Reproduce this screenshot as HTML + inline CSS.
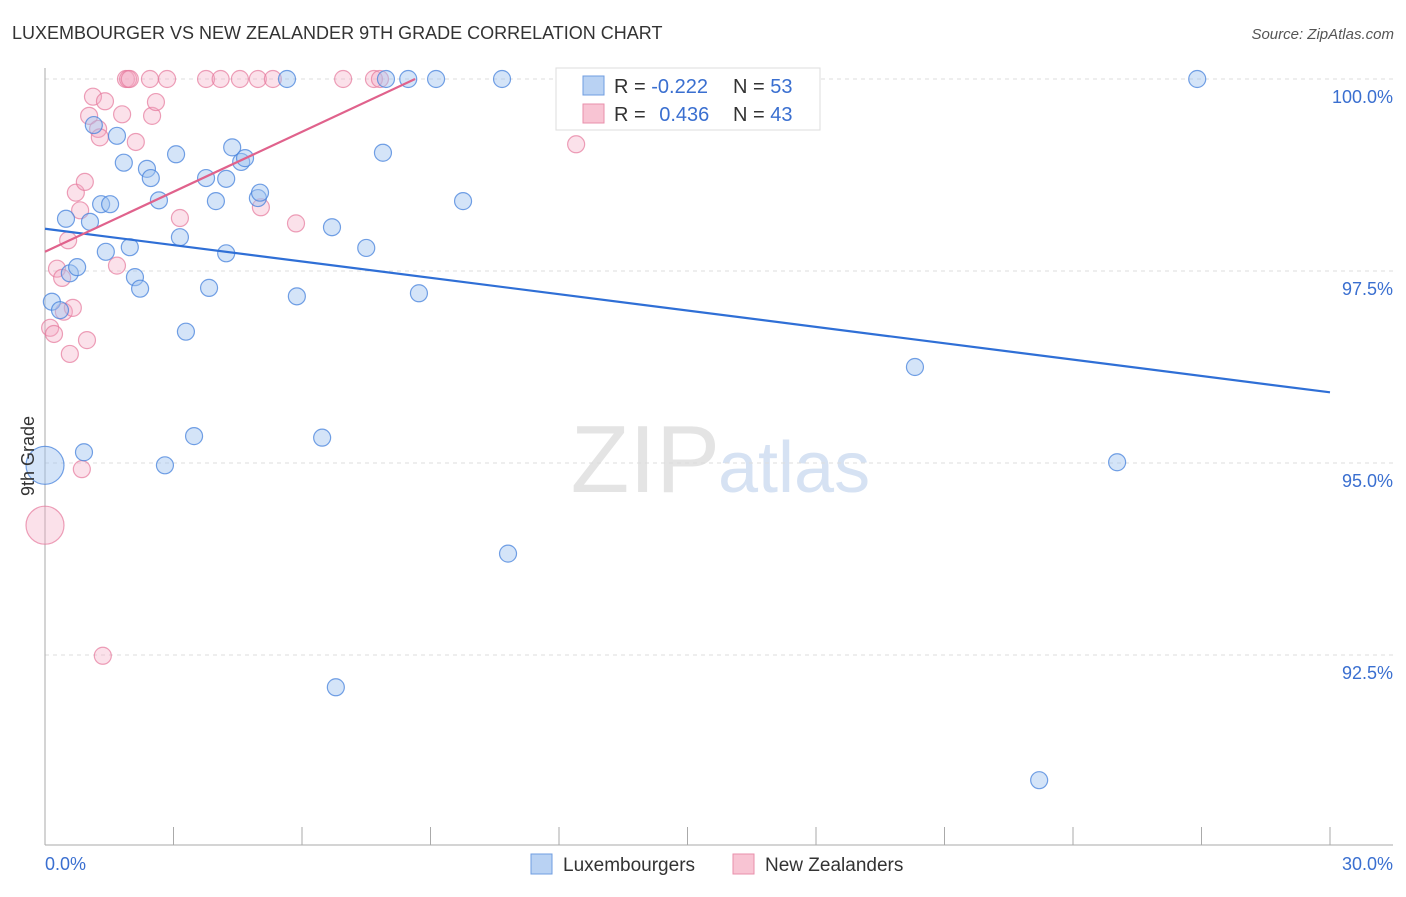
<!DOCTYPE html>
<html><head><meta charset="utf-8"><style>
body{margin:0;background:#fff;font-family:"Liberation Sans",sans-serif;}
svg text{font-family:"Liberation Sans",sans-serif;}
</style></head><body>
<svg id="c" width="1406" height="892" xmlns="http://www.w3.org/2000/svg">
<text x="12" y="39" font-size="18" fill="#333">LUXEMBOURGER VS NEW ZEALANDER 9TH GRADE CORRELATION CHART</text>
<text x="1394" y="39" font-size="15" fill="#555" font-style="italic" text-anchor="end">Source: ZipAtlas.com</text>
<text x="720" y="492" font-size="96" fill="#e4e4e4" text-anchor="end" font-family="Liberation Serif">ZIP</text>
<text x="718" y="492" font-size="72" fill="#d6e2f3">atlas</text>
<g id="grid"></g>
<g id="axes"></g>
<g id="marks"></g>
<text x="34" y="456" font-size="18" fill="#333" text-anchor="middle" transform="rotate(-90 34 456)">9th Grade</text>
<g>
<rect x="556" y="68" width="264" height="62" fill="#fff" stroke="#ddd"/>
<rect x="583" y="76" width="21" height="19" fill="#b9d2f3" stroke="#6f9de0"/>
<rect x="583" y="104" width="21" height="19" fill="#f8c4d3" stroke="#e98fab"/>
<text x="614" y="93" font-size="20" fill="#333">R = <tspan fill="#3a6fd0">-0.222</tspan></text>
<text x="733" y="93" font-size="20" fill="#333">N = <tspan fill="#3a6fd0">53</tspan></text>
<text x="614" y="121" font-size="20" fill="#333">R = <tspan fill="#3a6fd0" dx="8">0.436</tspan></text>
<text x="733" y="121" font-size="20" fill="#333">N = <tspan fill="#3a6fd0">43</tspan></text>
</g>
<g>
<rect x="531" y="854" width="21" height="20" fill="#b9d2f3" stroke="#6f9de0"/>
<text x="563" y="871" font-size="19" fill="#333">Luxembourgers</text>
<rect x="733" y="854" width="21" height="20" fill="#f8c4d3" stroke="#e98fab"/>
<text x="765" y="871" font-size="19" fill="#333">New Zealanders</text>
</g>
</svg>
<script>
const xTicks=[0,3,6,9,12,15,18,21,24,27,30];
const xLabels=["0.0%","30.0%"];
const yTicks=[100,97.5,95,92.5];
const yLabels=["100.0%","97.5%","95.0%","92.5%"];
const blueX=[0,0.16,0.35,0.49,0.58,0.75,0.91,1.05,1.14,1.31,1.52,1.42,1.68,1.84,1.98,2.10,2.22,2.38,2.47,2.66,2.80,3.06,3.15,3.29,3.48,3.76,3.83,3.99,4.23,4.23,4.37,4.58,4.67,4.97,5.02,5.65,5.88,6.47,6.70,6.79,7.50,7.89,7.96,8.48,8.73,9.13,9.76,10.67,10.81,20.31,25.03,23.21,26.90];
const blueY=[94.97,97.10,96.99,98.18,97.47,97.55,95.14,98.14,99.40,98.37,98.37,97.75,99.26,98.91,97.81,97.42,97.27,98.83,98.71,98.42,94.97,99.02,97.94,96.71,95.35,98.71,97.28,98.41,98.70,97.73,99.11,98.92,98.97,98.45,98.52,100,97.17,95.33,98.07,92.08,97.80,99.04,100,100,97.21,100,98.41,100,93.82,96.25,95.01,90.87,100];
const pinkX=[0,0.12,0.21,0.28,0.40,0.44,0.54,0.58,0.65,0.72,0.82,0.86,0.93,0.98,1.03,1.12,1.24,1.28,1.35,1.40,1.68,1.80,1.89,1.94,1.98,2.12,2.45,2.50,2.59,2.85,3.15,3.76,4.10,4.55,4.97,5.04,5.32,5.86,6.96,7.68,7.82,12.40,12.45];
const pinkY=[94.19,96.76,96.68,97.53,97.41,96.97,97.90,96.42,97.02,98.52,98.29,94.92,98.66,96.60,99.52,99.77,99.35,99.24,92.49,99.71,97.57,99.54,100,100,100,99.18,100,99.52,99.70,100,98.19,100,100,100,100,98.33,100,98.12,100,100,100,99.15,100];
const bigIdx=[0];
const blueTrend=[[0,98.05],[30,95.92]];
const pinkTrend=[[0,97.75],[8.64,100]];
const X=v=>45+v/30*1285;
const Y=v=>79+(100-v)*76.8;
const NS="http://www.w3.org/2000/svg";
function mk(p,t,a){const e=document.createElementNS(NS,t);for(const k in a)e.setAttribute(k,a[k]);p.appendChild(e);return e;}
const grid=document.getElementById('grid'),axes=document.getElementById('axes'),marks=document.getElementById('marks');
yTicks.forEach((v,i)=>{
 const l=mk(grid,'line',{x1:45,x2:1393,y1:Y(v),y2:Y(v),stroke:'#ddd','stroke-dasharray':'4,4'});
 
 
 const t=mk(axes,'text',{x:1393,y:Y(v)+24,'font-size':18,fill:'#3a6fd0','text-anchor':'end'});t.textContent=yLabels[i];
 
 
});
const ya=mk(axes,'line',{x1:45,x2:45,y1:68,y2:845,stroke:'#aaa'});


const xa=mk(axes,'line',{x1:45,x2:1393,y1:845,y2:845,stroke:'#aaa'});


xTicks.forEach(v=>{const l=mk(axes,'line',{x1:X(v),x2:X(v),y1:827,y2:845,stroke:'#aaa'});
 
 });
const t0=mk(axes,'text',{x:45,y:870,'font-size':18,fill:'#3a6fd0'});t0.textContent=xLabels[0];


const t1=mk(axes,'text',{x:1393,y:870,'font-size':18,fill:'#3a6fd0','text-anchor':'end'});t1.textContent=xLabels[1];


function pts(xs,ys,fill,stroke,name){xs.forEach((x,i)=>{
 const r=bigIdx.includes(i)&&x===0?19:8.5;
 const c=mk(marks,'circle',{cx:X(x),cy:Y(ys[i]),r:r,fill:fill,stroke:stroke,'stroke-width':1.2});
 
 
});}
pts(pinkX,pinkY,'rgba(244,170,195,0.35)','rgba(230,120,155,0.7)','new-zealander-point');
pts(blueX,blueY,'rgba(160,195,240,0.45)','rgba(70,130,220,0.75)','luxembourger-point');
const bl=mk(marks,'line',{x1:X(blueTrend[0][0]),y1:Y(blueTrend[0][1]),x2:X(blueTrend[1][0]),y2:Y(blueTrend[1][1]),stroke:'#2f6fd6','stroke-width':2.2});


const pl=mk(marks,'line',{x1:X(pinkTrend[0][0]),y1:Y(pinkTrend[0][1]),x2:X(pinkTrend[1][0]),y2:Y(pinkTrend[1][1]),stroke:'#e0628c','stroke-width':2.2});


</script>
</body></html>
